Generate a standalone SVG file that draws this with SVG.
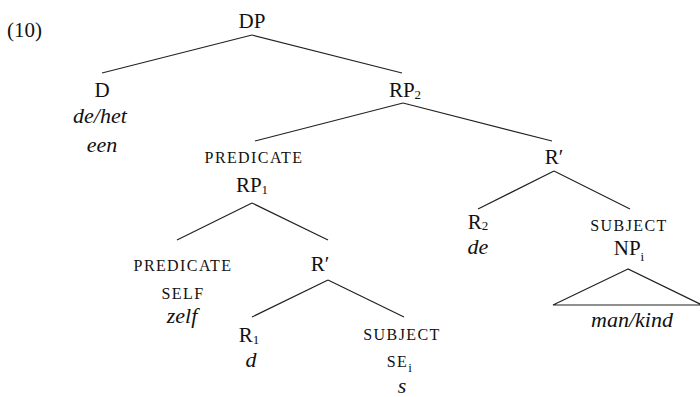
<svg xmlns="http://www.w3.org/2000/svg" width="700" height="397" viewBox="0 0 700 397">
<style>
text{font-family:"Liberation Serif","Times New Roman",serif;fill:#111;text-anchor:middle}
.l{font-size:21px}
.it{font-size:22px;font-style:italic}
.sc{font-size:16px;letter-spacing:1.4px}
.sub{font-size:13px}
#edges line,#edges polygon{stroke:#222;stroke-width:1.2;fill:none}
</style>
<rect width="700" height="397" fill="#fff"/>
<g id="edges">
<line x1="252" y1="35" x2="102" y2="73"/>
<line x1="252" y1="35" x2="402" y2="73"/>
<line x1="403" y1="103" x2="255" y2="141"/>
<line x1="403" y1="103" x2="552" y2="141"/>
<line x1="252" y1="203" x2="177" y2="240"/>
<line x1="252" y1="203" x2="328" y2="240"/>
<line x1="554" y1="171" x2="478" y2="209"/>
<line x1="554" y1="171" x2="630" y2="209"/>
<line x1="328" y1="280" x2="252" y2="317"/>
<line x1="328" y1="280" x2="404" y2="317"/>
<polygon points="628,269 553,305 702,305"/>
</g>
<g id="label"><text class="l" x="7" y="37" style="text-anchor:start">(10)</text></g>
<g id="DP"><text class="l" x="252" y="28">DP</text></g>
<g id="D"><text class="l" x="102" y="97">D</text><text class="it" x="100" y="123">de/het</text><text class="it" x="102" y="152">een</text></g>
<g id="RP2"><text class="l" x="405" y="97">RP<tspan class="sub" dy="2">2</tspan></text></g>
<g id="RP1"><text class="sc" x="254" y="163">PREDICATE</text><text class="l" x="252" y="192">RP<tspan class="sub" dy="2">1</tspan></text></g>
<g id="Rbar2"><text class="l" x="554" y="164">R′</text></g>
<g id="SELF"><text class="sc" x="183" y="271">PREDICATE</text><text class="sc" x="183" y="299">SELF</text><text class="it" x="182" y="323">zelf</text></g>
<g id="Rbar1"><text class="l" x="320" y="271">R′</text></g>
<g id="R1"><text class="l" x="249" y="342">R<tspan class="sub" dy="2">1</tspan></text><text class="it" x="251" y="367">d</text></g>
<g id="SE"><text class="sc" x="402" y="340">SUBJECT</text><text class="sc" x="400" y="367">SE<tspan class="sub" dy="5">i</tspan></text><text class="it" x="402" y="393">s</text></g>
<g id="R2"><text class="l" x="478" y="229">R<tspan class="sub" dy="1">2</tspan></text><text class="it" x="478" y="254">de</text></g>
<g id="NP"><text class="sc" x="629" y="231">SUBJECT</text><text class="l" x="629" y="255">NP<tspan class="sub" dy="6">i</tspan></text><text class="it" x="632" y="327">man/kind</text></g>
</svg>
